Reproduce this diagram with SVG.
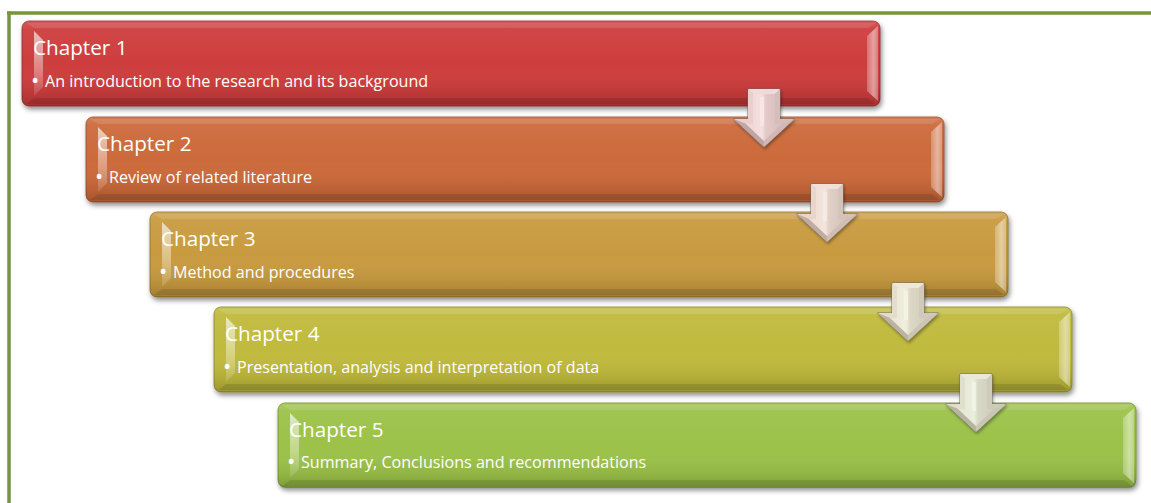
<svg xmlns="http://www.w3.org/2000/svg" width="1151" height="503" viewBox="0 0 1151 503">
  <style>
    .title { font-family: "Open Sans", "Liberation Sans", sans-serif; font-size: 20.7px; fill: #ffffff; }
    .item { font-family: "Open Sans", "Liberation Sans", sans-serif; font-size: 16.1px; fill: #ffffff; }
    .dot { font-family: "Open Sans", "Liberation Sans", sans-serif; font-size: 22px; fill: #ffffff; }
    .frame { stroke: #77933C; stroke-width: 3.5; fill: none; }
  </style>
  <defs>
    <filter id="shadow" x="-5%" y="-20%" width="110%" height="150%">
      <feDropShadow dx="1.5" dy="3" stdDeviation="2.5" flood-color="#000" flood-opacity="0.45"/>
    </filter>
    <filter id="ashadow" x="-30%" y="-30%" width="160%" height="160%">
      <feDropShadow dx="1" dy="2" stdDeviation="1.5" flood-color="#000" flood-opacity="0.35"/>
    </filter>
    <linearGradient id="shade" x1="0" y1="0" x2="0" y2="1">
      <stop offset="0" stop-color="#fff" stop-opacity="0.14"/>
      <stop offset="0.1" stop-color="#fff" stop-opacity="0.05"/>
      <stop offset="0.5" stop-color="#fff" stop-opacity="0"/>
      <stop offset="0.85" stop-color="#000" stop-opacity="0.08"/>
      <stop offset="1" stop-color="#000" stop-opacity="0.2"/>
    </linearGradient>
    <linearGradient id="hlL" x1="0" y1="0" x2="0" y2="1">
      <stop offset="0" stop-color="#fff" stop-opacity="0.65"/>
      <stop offset="0.6" stop-color="#fff" stop-opacity="0.35"/>
      <stop offset="1" stop-color="#fff" stop-opacity="0.1"/>
    </linearGradient>
    <linearGradient id="hlR" x1="0" y1="0" x2="1" y2="0">
      <stop offset="0" stop-color="#fff" stop-opacity="0.25"/>
      <stop offset="0.6" stop-color="#fff" stop-opacity="0.5"/>
      <stop offset="1" stop-color="#fff" stop-opacity="0.3"/>
    </linearGradient>
    <linearGradient id="ainner" x1="0" y1="0" x2="1" y2="0">
      <stop offset="0" stop-color="#F3EEEC"/>
      <stop offset="0.45" stop-color="#FBF9F8"/>
      <stop offset="0.55" stop-color="#E6E0DE"/>
      <stop offset="1" stop-color="#D9D2CF"/>
    </linearGradient>
    <symbol id="bevel" overflow="visible">
      <rect x="0" y="0" width="858" height="85" rx="7" fill="url(#shade)"/>
      <polygon points="4,2 854,2 846,7 12,7" fill="#fff" fill-opacity="0.1"/>
      <polygon points="12,77 846,77 854,83 4,83" fill="#000" fill-opacity="0.1"/>
      <polygon points="856,5 845,15 845,70 856,80" fill="url(#hlR)"/>
      <polygon points="12,10 21,19 21,66 12,75" fill="url(#hlL)"/>
    </symbol>
    <symbol id="arrow" overflow="visible">
      <path d="M-16,0 H16 V30 H30.5 L0,58 L-30.5,30 H-16 Z" fill="#CFC8C5" stroke="#6F6966" stroke-width="0.9" filter="url(#ashadow)"/>
      <polygon points="-16,0 16,0 11,5 -11,5" fill="#F7F3F2"/>
      <polygon points="-16,0 -11,5 -11,35 -18,35 -30.5,30 -16,30" fill="#EEE6E4"/>
      <polygon points="16,0 11,5 11,35 18,35 30.5,30 16,30" fill="#D8D0CD"/>
      <polygon points="-30.5,30 -18,35 0,52 0,58" fill="#BEB6B3"/>
      <polygon points="30.5,30 18,35 0,52 0,58" fill="#D2CAC7"/>
      <path d="M-11,5 H11 V35 H18 L0,52 L-18,35 H-11 Z" fill="url(#ainner)"/>
      <rect x="-4" y="8" width="4" height="29" fill="#fff" fill-opacity="0.9"/>
      <path d="M-16,0 H16 V30 H30.5 L0,58 L-30.5,30 H-16 Z" fill-opacity="0.14" stroke="none"/>
    </symbol>
  </defs>

  <g id="frame">
    <line class="frame" x1="7" y1="13" x2="1151" y2="13"/>
    <line class="frame" x1="9" y1="11.5" x2="9" y2="503"/>
  </g>

  <g id="chapter1" transform="translate(22,21)">
    <rect x="0" y="0" width="858" height="85" rx="7" fill="#CE3E3E" stroke="#8E2626" stroke-width="0.8" filter="url(#shadow)"/>
    <use href="#bevel"/>
    <text class="title" x="11" y="34">Chapter 1</text>
    <text class="dot" x="9" y="67">•</text>
    <text class="item" x="23" y="66">An introduction to the research and its background</text>
  </g>

  <g id="chapter2" transform="translate(86,117)">
    <rect x="0" y="0" width="858" height="85" rx="7" fill="#CC6B3A" stroke="#8E4724" stroke-width="0.8" filter="url(#shadow)"/>
    <use href="#bevel"/>
    <text class="title" x="11" y="34">Chapter 2</text>
    <text class="dot" x="9" y="67">•</text>
    <text class="item" x="23" y="66">Review of related literature</text>
  </g>

  <g id="chapter3" transform="translate(150,212)">
    <rect x="0" y="0" width="858" height="85" rx="7" fill="#C99B40" stroke="#8C6A26" stroke-width="0.8" filter="url(#shadow)"/>
    <use href="#bevel"/>
    <text class="title" x="11" y="34">Chapter 3</text>
    <text class="dot" x="9" y="67">•</text>
    <text class="item" x="23" y="66">Method and procedures</text>
  </g>

  <g id="chapter4" transform="translate(214,307)">
    <rect x="0" y="0" width="858" height="85" rx="7" fill="#C0BA3E" stroke="#858024" stroke-width="0.8" filter="url(#shadow)"/>
    <use href="#bevel"/>
    <text class="title" x="11" y="34">Chapter 4</text>
    <text class="dot" x="9" y="67">•</text>
    <text class="item" x="23" y="66">Presentation, analysis and interpretation of data</text>
  </g>

  <g id="chapter5" transform="translate(278,403)">
    <rect x="0" y="0" width="858" height="84" rx="7" fill="#9CC24A" stroke="#6A8A2C" stroke-width="0.8" filter="url(#shadow)"/>
    <use href="#bevel"/>
    <text class="title" x="11" y="34">Chapter 5</text>
    <text class="dot" x="9" y="66">•</text>
    <text class="item" x="23" y="65">Summary, Conclusions and recommendations</text>
  </g>

  <g id="connectors">
    <use href="#arrow" transform="translate(764,89)" fill="#D04848"/>
    <use href="#arrow" transform="translate(827,184)" fill="#C87040"/>
    <use href="#arrow" transform="translate(908,283)" fill="#B0A840"/>
    <use href="#arrow" transform="translate(976,374)" fill="#90B040"/>
  </g>
</svg>
